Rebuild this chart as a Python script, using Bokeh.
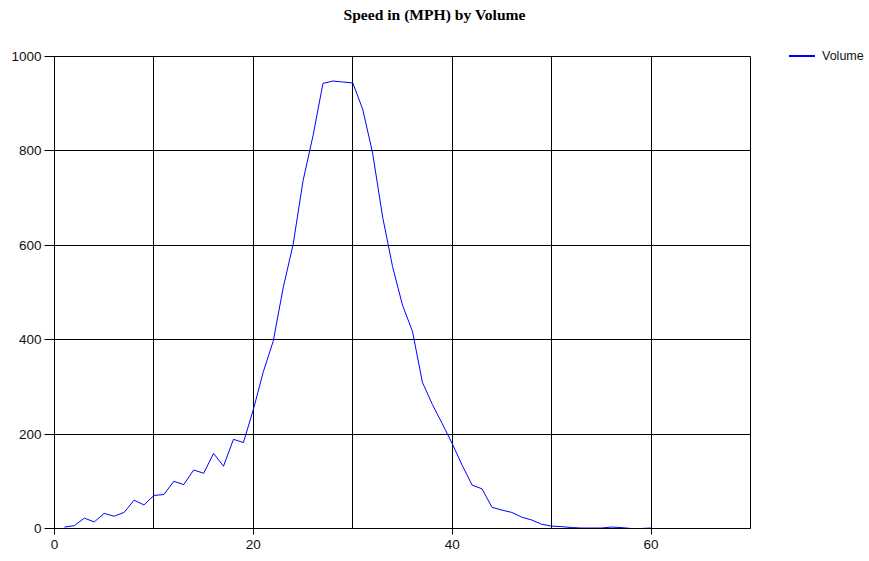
from bokeh.plotting import figure
from bokeh.models import FixedTicker, Range1d, Div
from bokeh.layouts import column, row
from bokeh.embed import file_html
from bokeh.resources import INLINE

speed = list(range(1, 61))
volume = [3, 6, 22, 14, 32, 26, 34, 60, 50, 70,
          72, 100, 93, 124, 117, 159, 132, 189, 182, 252,
          332, 397, 510, 602, 737, 832, 943, 948, 946, 944,
          888, 795, 660, 555, 473, 418, 310, 263, 222, 180,
          134, 92, 84, 45, 39, 34, 24, 18, 9, 5,
          4, 2, 1, 1, 1, 3, 2, 0, 0, 1]
x_ticks = [0, 20, 40, 60]
x_grid = [10, 20, 30, 40, 50, 60]
y_ticks = [0, 200, 400, 600, 800, 1000]
title_text = "Speed in (MPH) by Volume"
series_name = "Volume"

p = figure(width=760, height=531, output_backend="svg", toolbar_location=None,
           x_range=Range1d(0, 70), y_range=Range1d(0, 1000),
           min_border_left=54, min_border_right=10, min_border_top=26, min_border_bottom=33)

r = p.line(speed, volume, line_color="#0000FF", line_width=1)

p.outline_line_color = "black"
p.outline_line_width = 1
p.outline_line_alpha = 1

p.xaxis.ticker = FixedTicker(ticks=x_ticks)
p.yaxis.ticker = FixedTicker(ticks=y_ticks)
p.xgrid.ticker = FixedTicker(ticks=x_grid)
p.ygrid.ticker = FixedTicker(ticks=y_ticks[1:-1])
for g in (p.xgrid, p.ygrid):
    g.grid_line_color = "black"
    g.grid_line_width = 1
    g.grid_line_alpha = 1

for ax in (p.xaxis, p.yaxis):
    ax.axis_line_color = "black"
    ax.major_tick_line_color = "black"
    ax.minor_tick_line_color = None
    ax.major_tick_in = 0
    ax.major_label_text_font = "Liberation Sans"
    ax.major_label_text_font_size = "13.5px"
    ax.major_label_text_color = "#111111"
p.xaxis.major_tick_out = 6
p.xaxis.major_label_standoff = 5
p.yaxis.major_tick_out = 10
p.yaxis.major_label_standoff = 3

title_div = Div(
    text=f'<div style="width:869px;height:30px;line-height:30px;text-align:center;'
         f'font-family:\'Liberation Serif\';font-weight:bold;font-size:15.6px;color:#000;">'
         f'{title_text}</div>',
    width=869, height=30, margin=0)

legend_div = Div(
    text=f'<div style="position:relative;width:109px;height:120px;">'
         f'<div style="position:absolute;left:29px;top:25px;width:26px;height:2px;background:#0000FF;"></div>'
         f'<div style="position:absolute;left:62px;top:17px;height:18px;line-height:18px;'
         f'font-family:\'Liberation Sans\';font-size:12.5px;color:#111;white-space:nowrap;">'
         f'{series_name}</div></div>',
    width=109, height=120, margin=0)

layout = column(title_div, row(p, legend_div))
open("out.html", "w").write(file_html(layout, INLINE))
